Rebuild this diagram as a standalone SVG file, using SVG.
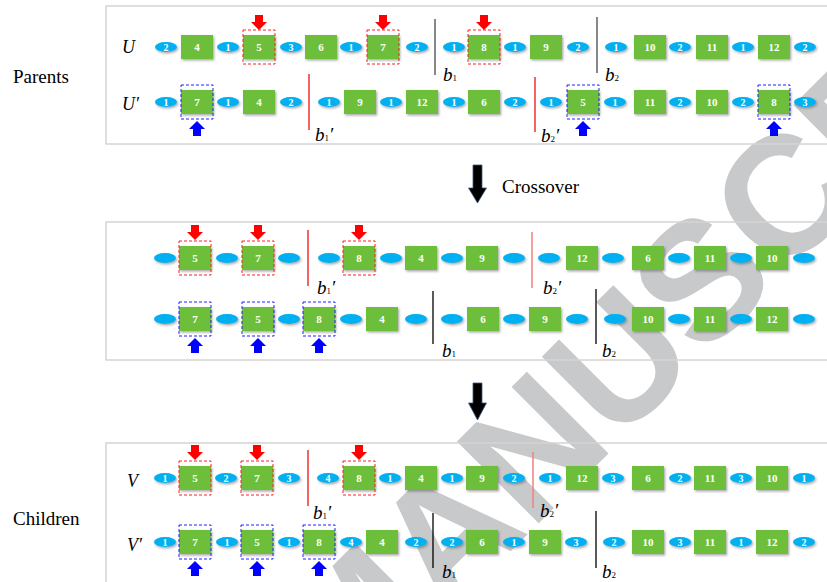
<svg xmlns="http://www.w3.org/2000/svg" xmlns:xlink="http://www.w3.org/1999/xlink" width="827" height="582" viewBox="0 0 827 582">
<defs>
<style>
.e{fill:#00b0f0;filter:url(#sh)}
.s{fill:#6dbf3b;filter:url(#sh)}
.n{font-family:"Liberation Serif",serif;font-weight:bold;font-size:10px;fill:#fff;text-anchor:middle}
.m{font-family:"Liberation Serif",serif;font-weight:bold;font-size:11px;fill:#fff;text-anchor:middle}
.rd{fill:none;stroke:#ff2020;stroke-width:1;stroke-dasharray:3,2}
.bd{fill:none;stroke:#2020ff;stroke-width:1;stroke-dasharray:3,2}
.pn{fill:none;stroke:#d4d4d4;stroke-width:1.5}
.lb{font-family:"Liberation Serif",serif;font-size:19px;fill:#000}
.it{font-family:"Liberation Serif",serif;font-style:italic;font-size:18px;fill:#000}
.b{font-family:"Liberation Serif",serif;font-style:italic;font-size:19px;fill:#000}
.sub{font-style:normal;font-size:9px}
.cg{stroke:#606060;stroke-width:1.5}
.cr{stroke:#f03030;stroke-width:1.5}
.cs{stroke:#f08080;stroke-width:1.5}
.ck{stroke:#000;stroke-width:1.3}
.wm{font-family:"Liberation Sans",Arial,sans-serif;font-weight:bold;font-size:168px;fill:#c8c9cb}
</style>
<filter id="sh" x="-20%" y="-30%" width="150%" height="170%">
<feDropShadow dx="1.2" dy="1.5" stdDeviation="0.8" flood-color="#404040" flood-opacity="0.45"/>
</filter>
<path id="arD" d="M-4,0 h8 v7 h4 l-8,8 l-8,-8 h4 z" fill="#ff0000"/>
<path id="arU" d="M-4,15 h8 v-7 h4 l-8,-8 l-8,8 h4 z" fill="#0000ff"/>
</defs>
<rect width="827" height="582" fill="#fff"/>
<text class="wm" x="346" y="716" transform="rotate(-45 346 716)">MANUSCRIPT</text>

<rect class="pn" x="106" y="6" width="730" height="138"/>
<rect class="pn" x="106" y="222" width="730" height="138"/>
<rect class="pn" x="106" y="443" width="730" height="150"/>

<text class="lb" x="13" y="83">Parents</text>
<text class="lb" x="13" y="525">Children</text>
<text class="lb" x="502" y="193">Crossover</text>
<text class="it" x="122" y="53">U</text>
<text class="it" x="122" y="110">U′</text>
<text class="it" x="127" y="487">V</text>
<text class="it" x="127" y="551">V′</text>

<g id="connectors">
<line class="cg" x1="435" y1="19" x2="435" y2="75"/>
<line class="cg" x1="597" y1="17" x2="597" y2="73"/>
<line class="cr" x1="309" y1="74" x2="309" y2="130"/>
<line class="cr" x1="535" y1="77" x2="535" y2="132"/>
<line class="cr" x1="308" y1="230" x2="308" y2="286"/>
<line class="cs" x1="532" y1="232" x2="532" y2="288"/>
<line class="ck" x1="433" y1="291" x2="433" y2="344"/>
<line class="ck" x1="596" y1="289" x2="596" y2="344"/>
<line class="cr" x1="308" y1="450" x2="308" y2="506"/>
<line class="cs" x1="533" y1="452" x2="533" y2="508"/>
<line class="ck" x1="433" y1="513" x2="433" y2="568"/>
<line class="ck" x1="596" y1="511" x2="596" y2="568"/>
<path d="M473,165 h9 v23 h4.5 l-9,15 l-9,-15 h4.5 z" fill="#000" stroke="#3a5a80" stroke-width="0.8"/>
<path d="M473,383 h9 v20 h4.5 l-9,17 l-9,-17 h4.5 z" fill="#000" stroke="#3a5a80" stroke-width="0.8"/>
</g>

<g id="cut-labels">
<text class="b" x="443" y="81">b<tspan class="sub">1</tspan></text>
<text class="b" x="605" y="81">b<tspan class="sub">2</tspan></text>
<text class="b" x="315" y="141">b<tspan class="sub">1</tspan>′</text>
<text class="b" x="541" y="142">b<tspan class="sub">2</tspan>′</text>
<text class="b" x="317" y="294">b<tspan class="sub">1</tspan>′</text>
<text class="b" x="543" y="294">b<tspan class="sub">2</tspan>′</text>
<text class="b" x="442" y="357">b<tspan class="sub">1</tspan></text>
<text class="b" x="602" y="357">b<tspan class="sub">2</tspan></text>
<text class="b" x="313" y="519">b<tspan class="sub">1</tspan>′</text>
<text class="b" x="540" y="517">b<tspan class="sub">2</tspan>′</text>
<text class="b" x="442" y="578">b<tspan class="sub">1</tspan></text>
<text class="b" x="602" y="578">b<tspan class="sub">2</tspan></text>
</g>

<!-- Row U -->
<g id="u-e1"><ellipse class="e" cx="166" cy="47" rx="11" ry="5"/><text class="n" x="166" y="50.5">2</text></g>
<g id="u-s4"><rect class="s" x="181" y="35" width="32" height="24"/><text class="m" x="197" y="51">4</text></g>
<g id="u-e2"><ellipse class="e" cx="228" cy="47" rx="11" ry="5"/><text class="n" x="228" y="50.5">1</text></g>
<g id="u-s5"><rect class="s" x="243" y="35" width="32" height="24"/><text class="m" x="259" y="51">5</text><rect class="rd" x="243" y="30" width="32" height="34"/><use href="#arD" x="259" y="15"/></g>
<g id="u-e3"><ellipse class="e" cx="291" cy="47" rx="11" ry="5"/><text class="n" x="291" y="50.5">3</text></g>
<g id="u-s6"><rect class="s" x="305" y="35" width="32" height="24"/><text class="m" x="321" y="51">6</text></g>
<g id="u-e4"><ellipse class="e" cx="351" cy="47" rx="11" ry="5"/><text class="n" x="351" y="50.5">1</text></g>
<g id="u-s7"><rect class="s" x="367" y="35" width="32" height="24"/><text class="m" x="383" y="51">7</text><rect class="rd" x="367" y="30" width="32" height="34"/><use href="#arD" x="383" y="15"/></g>
<g id="u-e5"><ellipse class="e" cx="417" cy="47" rx="11" ry="5"/><text class="n" x="417" y="50.5">2</text></g>
<g id="u-e6"><ellipse class="e" cx="454" cy="47" rx="11" ry="5"/><text class="n" x="454" y="50.5">1</text></g>
<g id="u-s8"><rect class="s" x="468" y="35" width="32" height="24"/><text class="m" x="484" y="51">8</text><rect class="rd" x="468" y="30" width="32" height="34"/><use href="#arD" x="484" y="15"/></g>
<g id="u-e7"><ellipse class="e" cx="515" cy="47" rx="11" ry="5"/><text class="n" x="515" y="50.5">1</text></g>
<g id="u-s9"><rect class="s" x="530" y="35" width="32" height="24"/><text class="m" x="546" y="51">9</text></g>
<g id="u-e8"><ellipse class="e" cx="578" cy="47" rx="11" ry="5"/><text class="n" x="578" y="50.5">2</text></g>
<g id="u-e9"><ellipse class="e" cx="616" cy="47" rx="11" ry="5"/><text class="n" x="616" y="50.5">1</text></g>
<g id="u-s10"><rect class="s" x="634" y="35" width="32" height="24"/><text class="m" x="650" y="51">10</text></g>
<g id="u-e10"><ellipse class="e" cx="680" cy="47" rx="11" ry="5"/><text class="n" x="680" y="50.5">2</text></g>
<g id="u-s11"><rect class="s" x="696" y="35" width="32" height="24"/><text class="m" x="712" y="51">11</text></g>
<g id="u-e11"><ellipse class="e" cx="743" cy="47" rx="11" ry="5"/><text class="n" x="743" y="50.5">1</text></g>
<g id="u-s12"><rect class="s" x="758" y="35" width="32" height="24"/><text class="m" x="774" y="51">12</text></g>
<g id="u-e12"><ellipse class="e" cx="805" cy="47" rx="11" ry="5"/><text class="n" x="805" y="50.5">2</text></g>

<!-- Row U' -->
<g id="up-e1"><ellipse class="e" cx="166" cy="102" rx="11" ry="5"/><text class="n" x="166" y="105.5">1</text></g>
<g id="up-s7"><rect class="s" x="181" y="90" width="32" height="24"/><text class="m" x="197" y="106">7</text><rect class="bd" x="181" y="85" width="32" height="34"/><use href="#arU" x="197" y="121"/></g>
<g id="up-e2"><ellipse class="e" cx="228" cy="102" rx="11" ry="5"/><text class="n" x="228" y="105.5">1</text></g>
<g id="up-s4"><rect class="s" x="243" y="90" width="32" height="24"/><text class="m" x="259" y="106">4</text></g>
<g id="up-e3"><ellipse class="e" cx="291" cy="102" rx="11" ry="5"/><text class="n" x="291" y="105.5">2</text></g>
<g id="up-e4"><ellipse class="e" cx="329" cy="102" rx="11" ry="5"/><text class="n" x="329" y="105.5">1</text></g>
<g id="up-s9"><rect class="s" x="344" y="90" width="32" height="24"/><text class="m" x="360" y="106">9</text></g>
<g id="up-e5"><ellipse class="e" cx="391" cy="102" rx="11" ry="5"/><text class="n" x="391" y="105.5">1</text></g>
<g id="up-s12"><rect class="s" x="406" y="90" width="32" height="24"/><text class="m" x="422" y="106">12</text></g>
<g id="up-e6"><ellipse class="e" cx="454" cy="102" rx="11" ry="5"/><text class="n" x="454" y="105.5">1</text></g>
<g id="up-s6"><rect class="s" x="468" y="90" width="32" height="24"/><text class="m" x="484" y="106">6</text></g>
<g id="up-e7"><ellipse class="e" cx="515" cy="102" rx="11" ry="5"/><text class="n" x="515" y="105.5">2</text></g>
<g id="up-e8"><ellipse class="e" cx="551" cy="102" rx="11" ry="5"/><text class="n" x="551" y="105.5">1</text></g>
<g id="up-s5"><rect class="s" x="567" y="90" width="32" height="24"/><text class="m" x="583" y="106">5</text><rect class="bd" x="567" y="85" width="32" height="34"/><use href="#arU" x="583" y="121"/></g>
<g id="up-e9"><ellipse class="e" cx="615" cy="102" rx="11" ry="5"/><text class="n" x="615" y="105.5">1</text></g>
<g id="up-s11"><rect class="s" x="634" y="90" width="32" height="24"/><text class="m" x="650" y="106">11</text></g>
<g id="up-e10"><ellipse class="e" cx="680" cy="102" rx="11" ry="5"/><text class="n" x="680" y="105.5">2</text></g>
<g id="up-s10"><rect class="s" x="696" y="90" width="32" height="24"/><text class="m" x="712" y="106">10</text></g>
<g id="up-e11"><ellipse class="e" cx="743" cy="102" rx="11" ry="5"/><text class="n" x="743" y="105.5">2</text></g>
<g id="up-s8"><rect class="s" x="758" y="90" width="32" height="24"/><text class="m" x="774" y="106">8</text><rect class="bd" x="758" y="85" width="32" height="34"/><use href="#arU" x="774" y="121"/></g>
<g id="up-e12"><ellipse class="e" cx="805" cy="102" rx="11" ry="5"/><text class="n" x="805" y="105.5">3</text></g>

<!-- Middle row 1 -->
<g id="m1-e1"><ellipse class="e" cx="165" cy="258" rx="11" ry="5"/></g>
<g id="m1-s5"><rect class="s" x="179" y="246" width="32" height="24"/><text class="m" x="195" y="262">5</text><rect class="rd" x="179" y="241" width="32" height="34"/><use href="#arD" x="195" y="225"/></g>
<g id="m1-e2"><ellipse class="e" cx="227" cy="258" rx="11" ry="5"/></g>
<g id="m1-s7"><rect class="s" x="242" y="246" width="32" height="24"/><text class="m" x="258" y="262">7</text><rect class="rd" x="242" y="241" width="32" height="34"/><use href="#arD" x="258" y="225"/></g>
<g id="m1-e3"><ellipse class="e" cx="289" cy="258" rx="11" ry="5"/></g>
<g id="m1-e4"><ellipse class="e" cx="329" cy="258" rx="11" ry="5"/></g>
<g id="m1-s8"><rect class="s" x="343" y="246" width="32" height="24"/><text class="m" x="359" y="262">8</text><rect class="rd" x="343" y="241" width="32" height="34"/><use href="#arD" x="359" y="225"/></g>
<g id="m1-e5"><ellipse class="e" cx="391" cy="258" rx="11" ry="5"/></g>
<g id="m1-s4"><rect class="s" x="405" y="246" width="32" height="24"/><text class="m" x="421" y="262">4</text></g>
<g id="m1-e6"><ellipse class="e" cx="452" cy="258" rx="11" ry="5"/></g>
<g id="m1-s9"><rect class="s" x="466" y="246" width="32" height="24"/><text class="m" x="482" y="262">9</text></g>
<g id="m1-e7"><ellipse class="e" cx="514" cy="258" rx="11" ry="5"/></g>
<g id="m1-e8"><ellipse class="e" cx="549" cy="258" rx="11" ry="5"/></g>
<g id="m1-s12"><rect class="s" x="566" y="246" width="32" height="24"/><text class="m" x="582" y="262">12</text></g>
<g id="m1-e9"><ellipse class="e" cx="613" cy="258" rx="11" ry="5"/></g>
<g id="m1-s6"><rect class="s" x="632" y="246" width="32" height="24"/><text class="m" x="648" y="262">6</text></g>
<g id="m1-e10"><ellipse class="e" cx="679" cy="258" rx="11" ry="5"/></g>
<g id="m1-s11"><rect class="s" x="694" y="246" width="32" height="24"/><text class="m" x="710" y="262">11</text></g>
<g id="m1-e11"><ellipse class="e" cx="741" cy="258" rx="11" ry="5"/></g>
<g id="m1-s10"><rect class="s" x="756" y="246" width="32" height="24"/><text class="m" x="772" y="262">10</text></g>
<g id="m1-e12"><ellipse class="e" cx="804" cy="258" rx="11" ry="5"/></g>

<!-- Middle row 2 -->
<g id="m2-e1"><ellipse class="e" cx="165" cy="319" rx="11" ry="5"/></g>
<g id="m2-s7"><rect class="s" x="179" y="307" width="32" height="24"/><text class="m" x="195" y="323">7</text><rect class="bd" x="179" y="302" width="32" height="34"/><use href="#arU" x="195" y="338"/></g>
<g id="m2-e2"><ellipse class="e" cx="227" cy="319" rx="11" ry="5"/></g>
<g id="m2-s5"><rect class="s" x="242" y="307" width="32" height="24"/><text class="m" x="258" y="323">5</text><rect class="bd" x="242" y="302" width="32" height="34"/><use href="#arU" x="258" y="338"/></g>
<g id="m2-e3"><ellipse class="e" cx="289" cy="319" rx="11" ry="5"/></g>
<g id="m2-s8"><rect class="s" x="303" y="307" width="32" height="24"/><text class="m" x="319" y="323">8</text><rect class="bd" x="303" y="302" width="32" height="34"/><use href="#arU" x="319" y="338"/></g>
<g id="m2-e4"><ellipse class="e" cx="351" cy="319" rx="11" ry="5"/></g>
<g id="m2-s4"><rect class="s" x="366" y="307" width="32" height="24"/><text class="m" x="382" y="323">4</text></g>
<g id="m2-e5"><ellipse class="e" cx="416" cy="319" rx="11" ry="5"/></g>
<g id="m2-e6"><ellipse class="e" cx="452" cy="319" rx="11" ry="5"/></g>
<g id="m2-s6"><rect class="s" x="467" y="307" width="32" height="24"/><text class="m" x="483" y="323">6</text></g>
<g id="m2-e7"><ellipse class="e" cx="514" cy="319" rx="11" ry="5"/></g>
<g id="m2-s9"><rect class="s" x="529" y="307" width="32" height="24"/><text class="m" x="545" y="323">9</text></g>
<g id="m2-e8"><ellipse class="e" cx="577" cy="319" rx="11" ry="5"/></g>
<g id="m2-e9"><ellipse class="e" cx="615" cy="319" rx="11" ry="5"/></g>
<g id="m2-s10"><rect class="s" x="632" y="307" width="32" height="24"/><text class="m" x="648" y="323">10</text></g>
<g id="m2-e10"><ellipse class="e" cx="679" cy="319" rx="11" ry="5"/></g>
<g id="m2-s11"><rect class="s" x="694" y="307" width="32" height="24"/><text class="m" x="710" y="323">11</text></g>
<g id="m2-e11"><ellipse class="e" cx="741" cy="319" rx="11" ry="5"/></g>
<g id="m2-s12"><rect class="s" x="756" y="307" width="32" height="24"/><text class="m" x="772" y="323">12</text></g>
<g id="m2-e12"><ellipse class="e" cx="804" cy="319" rx="11" ry="5"/></g>

<!-- Row V -->
<g id="v-e1"><ellipse class="e" cx="165" cy="478" rx="11" ry="5"/><text class="n" x="165" y="481.5">1</text></g>
<g id="v-s5"><rect class="s" x="179" y="466" width="32" height="24"/><text class="m" x="195" y="482">5</text><rect class="rd" x="179" y="461" width="32" height="34"/><use href="#arD" x="195" y="445"/></g>
<g id="v-e2"><ellipse class="e" cx="226" cy="478" rx="11" ry="5"/><text class="n" x="226" y="481.5">2</text></g>
<g id="v-s7"><rect class="s" x="241" y="466" width="32" height="24"/><text class="m" x="257" y="482">7</text><rect class="rd" x="241" y="461" width="32" height="34"/><use href="#arD" x="257" y="445"/></g>
<g id="v-e3"><ellipse class="e" cx="289" cy="478" rx="11" ry="5"/><text class="n" x="289" y="481.5">3</text></g>
<g id="v-e4"><ellipse class="e" cx="328" cy="478" rx="11" ry="5"/><text class="n" x="328" y="481.5">4</text></g>
<g id="v-s8"><rect class="s" x="343" y="466" width="32" height="24"/><text class="m" x="359" y="482">8</text><rect class="rd" x="343" y="461" width="32" height="34"/><use href="#arD" x="359" y="445"/></g>
<g id="v-e5"><ellipse class="e" cx="390" cy="478" rx="11" ry="5"/><text class="n" x="390" y="481.5">1</text></g>
<g id="v-s4"><rect class="s" x="405" y="466" width="32" height="24"/><text class="m" x="421" y="482">4</text></g>
<g id="v-e6"><ellipse class="e" cx="452" cy="478" rx="11" ry="5"/><text class="n" x="452" y="481.5">1</text></g>
<g id="v-s9"><rect class="s" x="466" y="466" width="32" height="24"/><text class="m" x="482" y="482">9</text></g>
<g id="v-e7"><ellipse class="e" cx="514" cy="478" rx="11" ry="5"/><text class="n" x="514" y="481.5">2</text></g>
<g id="v-e8"><ellipse class="e" cx="550" cy="478" rx="11" ry="5"/><text class="n" x="550" y="481.5">1</text></g>
<g id="v-s12"><rect class="s" x="566" y="466" width="32" height="24"/><text class="m" x="582" y="482">12</text></g>
<g id="v-e9"><ellipse class="e" cx="613" cy="478" rx="11" ry="5"/><text class="n" x="613" y="481.5">3</text></g>
<g id="v-s6"><rect class="s" x="632" y="466" width="32" height="24"/><text class="m" x="648" y="482">6</text></g>
<g id="v-e10"><ellipse class="e" cx="680" cy="478" rx="11" ry="5"/><text class="n" x="680" y="481.5">2</text></g>
<g id="v-s11"><rect class="s" x="694" y="466" width="32" height="24"/><text class="m" x="710" y="482">11</text></g>
<g id="v-e11"><ellipse class="e" cx="741" cy="478" rx="11" ry="5"/><text class="n" x="741" y="481.5">3</text></g>
<g id="v-s10"><rect class="s" x="756" y="466" width="32" height="24"/><text class="m" x="772" y="482">10</text></g>
<g id="v-e12"><ellipse class="e" cx="804" cy="478" rx="11" ry="5"/><text class="n" x="804" y="481.5">1</text></g>

<!-- Row V' -->
<g id="vp-e1"><ellipse class="e" cx="165" cy="542" rx="11" ry="5"/><text class="n" x="165" y="545.5">1</text></g>
<g id="vp-s7"><rect class="s" x="179" y="530" width="32" height="24"/><text class="m" x="195" y="546">7</text><rect class="bd" x="179" y="525" width="32" height="34"/><use href="#arU" x="195" y="561"/></g>
<g id="vp-e2"><ellipse class="e" cx="227" cy="542" rx="11" ry="5"/><text class="n" x="227" y="545.5">1</text></g>
<g id="vp-s5"><rect class="s" x="241" y="530" width="32" height="24"/><text class="m" x="257" y="546">5</text><rect class="bd" x="241" y="525" width="32" height="34"/><use href="#arU" x="257" y="561"/></g>
<g id="vp-e3"><ellipse class="e" cx="289" cy="542" rx="11" ry="5"/><text class="n" x="289" y="545.5">1</text></g>
<g id="vp-s8"><rect class="s" x="303" y="530" width="32" height="24"/><text class="m" x="319" y="546">8</text><rect class="bd" x="303" y="525" width="32" height="34"/><use href="#arU" x="319" y="561"/></g>
<g id="vp-e4"><ellipse class="e" cx="351" cy="542" rx="11" ry="5"/><text class="n" x="351" y="545.5">4</text></g>
<g id="vp-s4"><rect class="s" x="366" y="530" width="32" height="24"/><text class="m" x="382" y="546">4</text></g>
<g id="vp-e5"><ellipse class="e" cx="416" cy="542" rx="11" ry="5"/><text class="n" x="416" y="545.5">2</text></g>
<g id="vp-e6"><ellipse class="e" cx="452" cy="542" rx="11" ry="5"/><text class="n" x="452" y="545.5">2</text></g>
<g id="vp-s6"><rect class="s" x="466" y="530" width="32" height="24"/><text class="m" x="482" y="546">6</text></g>
<g id="vp-e7"><ellipse class="e" cx="514" cy="542" rx="11" ry="5"/><text class="n" x="514" y="545.5">1</text></g>
<g id="vp-s9"><rect class="s" x="529" y="530" width="32" height="24"/><text class="m" x="545" y="546">9</text></g>
<g id="vp-e8"><ellipse class="e" cx="576" cy="542" rx="11" ry="5"/><text class="n" x="576" y="545.5">3</text></g>
<g id="vp-e9"><ellipse class="e" cx="614" cy="542" rx="11" ry="5"/><text class="n" x="614" y="545.5">2</text></g>
<g id="vp-s10"><rect class="s" x="632" y="530" width="32" height="24"/><text class="m" x="648" y="546">10</text></g>
<g id="vp-e10"><ellipse class="e" cx="680" cy="542" rx="11" ry="5"/><text class="n" x="680" y="545.5">3</text></g>
<g id="vp-s11"><rect class="s" x="694" y="530" width="32" height="24"/><text class="m" x="710" y="546">11</text></g>
<g id="vp-e11"><ellipse class="e" cx="741" cy="542" rx="11" ry="5"/><text class="n" x="741" y="545.5">1</text></g>
<g id="vp-s12"><rect class="s" x="756" y="530" width="32" height="24"/><text class="m" x="772" y="546">12</text></g>
<g id="vp-e12"><ellipse class="e" cx="804" cy="542" rx="11" ry="5"/><text class="n" x="804" y="545.5">2</text></g>
</svg>
